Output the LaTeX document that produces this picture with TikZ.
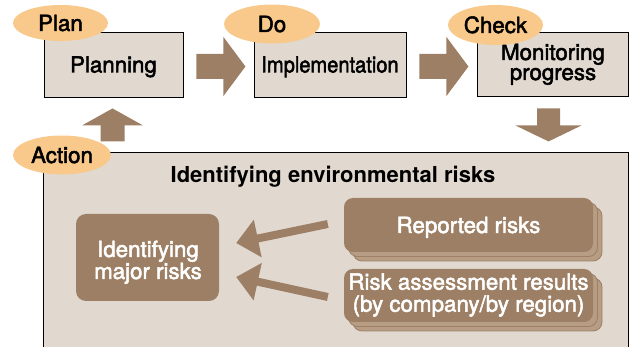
\documentclass[tikz,border=0pt]{standalone}
\usepackage{fontspec}
\usepackage{graphicx}
\setmainfont{TeX Gyre Heros}
\newfontfamily\medfont{TeX Gyre Heros}[RawFeature={embolden=2.2}]
\usetikzlibrary{calc,arrows.meta,shapes.geometric}
\definecolor{beige}{HTML}{E1D9CF}
\definecolor{brownc}{HTML}{9C7F64}
\definecolor{layerc}{HTML}{B69D84}
\definecolor{peach}{HTML}{F8C98B}
\begin{document}
\begin{tikzpicture}[x=1pt,y=-1pt,
  txt/.style={font=\medfont\fontsize{22.3}{22}\selectfont},
  topbox/.style={txt, draw=black, line width=0.9pt, fill=beige, inner sep=0pt, text height=16pt, text depth=0pt},
  tag/.style={txt, ellipse, fill=peach, inner sep=0pt, text height=16pt, text depth=0pt},
  brownbox/.style={fill=brownc, rounded corners=9pt, inner sep=0pt, minimum width=249pt},
  layer/.style={fill=layerc, draw=brownc, line width=0.8pt, rounded corners=9pt, inner sep=0pt, minimum width=249pt},
  wtxt/.style={txt, text=white, align=center, inner sep=0pt},
  thinarrow/.style={draw=brownc, line width=8pt, -{Triangle[length=22pt,width=37pt]}},
  rarrow/.pic={\fill[brownc] (0,-12.5) -- (27,-12.5) -- (27,-29.5) -- (49,0) -- (27,29.5) -- (27,12.5) -- (0,12.5) -- cycle;},
  darrow/.pic={\fill[brownc] (-11.5,0) -- (11.5,0) -- (11.5,17) -- (33,17) -- (0,33) -- (-33,17) -- (-11.5,17) -- cycle;},
  uarrow/.pic={\fill[brownc] (-12,0) -- (-12,-16) -- (-30.5,-16) -- (0,-33) -- (30.5,-16) -- (12,-16) -- (12,0) -- cycle;}
]
\useasboundingbox (0,0) rectangle (630,347);
\clip (0,0) rectangle (630,347);

% top row
\node[topbox, minimum width=139pt, minimum height=65pt] (planning) at (113.5,64.5) {Planning};
\node[topbox, minimum width=152pt, minimum height=65pt] (impl) at (330,64.5) {\scalebox{0.9}[1]{Implementation}};
\node[topbox, minimum width=151pt, minimum height=64pt, text height=, text depth=] (monitor) at (552.5,64) {};
\node[txt, align=center, inner sep=0pt, anchor=base] (montxt) at (553,80) {Monitoring\\[-2pt]progress};

\pic at ($(planning.east)+(13,2)$) {rarrow};
\pic at ($(impl.east)+(13,2)$) {rarrow};
\pic at ($(monitor.south)+(-4,12)$) {darrow};
\pic at ($(planning.south)+(-1,44)$) {uarrow};

% big box
\node[draw=black, line width=0.9pt, fill=beige, inner sep=0pt, minimum width=585pt, minimum height=218pt] (envbox) at (335.5,261) {};
\node[font=\bfseries\fontsize{22}{22}\selectfont, inner sep=0pt, anchor=base] (title) at (333,183) {Identifying environmental risks};

% major risks
\node[fill=brownc, rounded corners=10pt, inner sep=0pt, minimum width=143pt, minimum height=87pt] (major) at (147.5,257.5) {};
\node[wtxt, anchor=base] (majortxt) at (148,279) {Identifying\\major risks};

% reported risks stack
\coordinate (repc) at (468.5,225);
\node[layer, minimum height=54pt] (rep2) at ($(repc)+(9,9)$) {};
\node[layer, minimum height=54pt] (rep1) at ($(repc)+(4.5,4.5)$) {};
\node[brownbox, minimum height=54pt, wtxt, text height=16pt, text depth=0pt] (reported) at (repc) {Reported risks};

% assessment stack
\coordinate (assc) at (468.5,295.5);
\node[layer, minimum height=53pt] (ass2) at ($(assc)+(9,9)$) {};
\node[layer, minimum height=53pt] (ass1) at ($(assc)+(4.5,4.5)$) {};
\node[brownbox, minimum height=53pt] (assess) at (assc) {};
\node[wtxt, anchor=base] (asstxt) at (468.5,311.7) {Risk assessment results\\(by company/by region)};

% thin arrows
\coordinate (a1s) at ($(reported.west)+(-16,-1)$);
\coordinate (a1e) at ($(major.east)+(17,-14.5)$);
\coordinate (a2s) at ($(assess.west)+(-16,1.5)$);
\coordinate (a2e) at ($(major.east)+(17,19.5)$);
\draw[thinarrow] (a1s) -- (a1e);
\draw[thinarrow] (a2s) -- (a2e);

% tags
\node[tag, minimum width=95pt, minimum height=36pt] (plan) at (60.5,23) {Plan};
\node[tag, minimum width=96pt, minimum height=39pt] (do) at (272,24) {Do};
\node[tag, minimum width=95pt, minimum height=40pt] (check) at (495.5,25) {Check};
\node[tag, minimum width=98pt, minimum height=39pt] (action) at (62,155) {Action};
\end{tikzpicture}
\end{document}
